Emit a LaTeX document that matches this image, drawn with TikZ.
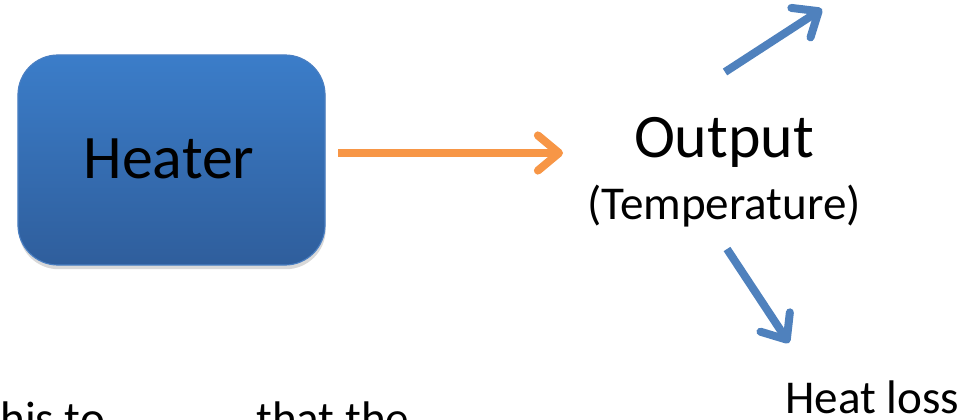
\documentclass[tikz,border=0pt]{standalone}
\usepackage{fontspec}
\setmainfont{Carlito}
\usetikzlibrary{arrows.meta,shadows}
\definecolor{boxtop}{HTML}{3B7DC9}
\definecolor{boxbot}{HTML}{2F5E9C}
\definecolor{boxline}{HTML}{4A7FC2}
\definecolor{heatorange}{HTML}{F79646}
\definecolor{lossblue}{HTML}{4F81BD}
\tikzset{
  heaterbox/.style={rounded corners=1cm, minimum width=7.675cm, minimum height=5.25cm,
    top color=boxtop, bottom color=boxbot, draw=boxline, line width=0.8pt,
    drop shadow={shadow xshift=0.5pt, shadow yshift=-3pt, opacity=0.3}},
  bigtext/.style={font=\fontsize{44}{50}\selectfont, inner sep=0pt},
  smalltext/.style={font=\fontsize{33.5}{38}\selectfont, inner sep=0pt},
  flow/.style={line width=5.7pt, -{Straight Barb[length=15pt,width=25pt,round]}},
}
\begin{document}
\begin{tikzpicture}[x=0.025cm,y=-0.025cm]
      \useasboundingbox (0,0) rectangle (969,420);
      \clip (0,0) rectangle (969,420);
      \coordinate (inA) at (338,153);
      \coordinate (inB) at (563,153);
      \coordinate (upA) at (725,72);
      \coordinate (upB) at (822,9);
      \coordinate (dnA) at (727,249);
      \coordinate (dnB) at (789,343);
      \node[heaterbox] (heater) at (171.5,160) {};
      \node[bigtext, anchor=base] (heatlabel) at (169,178) {Heater};
      \node[bigtext, anchor=base] (out) at (724,158) {Output};
      \node[smalltext, anchor=base] (temp) at (724,220) {(Temperature)};
      \node[smalltext, anchor=base] (loss) at (872.5,413) {Heat loss};
      \node[smalltext, anchor=base west] (notea) at (0,434) {his to};
      \node[smalltext, anchor=base west] (noteb) at (256,434) {that the};
      \draw[flow, draw=heatorange] (inA) -- (inB);
      \draw[flow, draw=lossblue] (upA) -- (upB);
      \draw[flow, draw=lossblue] (dnA) -- (dnB);
    \end{tikzpicture}
\end{document}
